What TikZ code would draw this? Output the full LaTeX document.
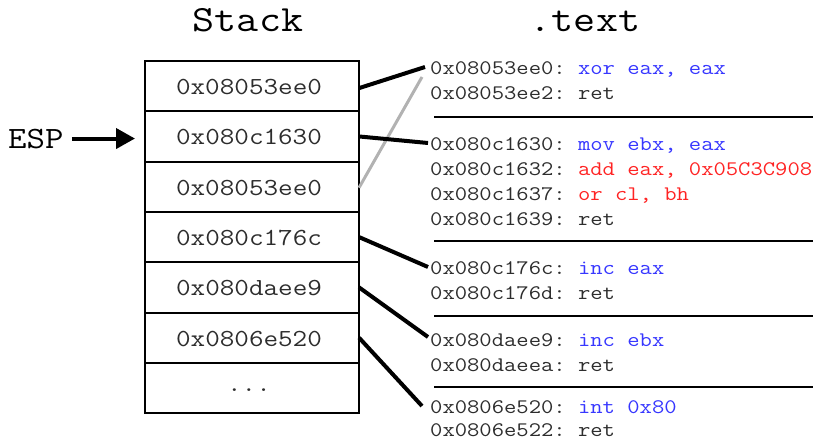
\documentclass[tikz,border=0pt]{standalone}
\usepackage{fontspec}
\setmonofont{Latin Modern Mono}[FakeStretch=1.156]
\usetikzlibrary{arrows.meta,calc}

\definecolor{ink}{RGB}{45,45,45}
\definecolor{opblue}{RGB}{55,55,255}
\definecolor{opred}{RGB}{255,35,35}
\definecolor{dead}{RGB}{178,178,178}

\tikzset{
  row/.style={draw=black, line width=2pt, minimum width=214pt, minimum height=50.3pt,
              inner sep=0pt, outer sep=0pt},
  rowtxt/.style={font=\ttfamily\fontsize{24.5}{26}\selectfont, text=ink, inner sep=0pt},
  title/.style={font=\ttfamily\fontsize{37}{40}\selectfont, text=black, anchor=base, inner sep=0pt},
  code/.style={font=\ttfamily\fontsize{20.7}{22}\selectfont, text=ink, anchor=west,
               inner sep=0pt, text height=12.6pt, text depth=0pt},
  link/.style={line width=4pt, black},
  deadlink/.style={line width=3pt, dead},
  rule/.style={line width=2pt, black},
}
\newcommand{\opb}[1]{\textcolor{opblue}{#1}}
\newcommand{\opr}[1]{\textcolor{opred}{#1}}

\begin{document}
\begin{tikzpicture}[x=1pt, y=-1pt]
\useasboundingbox (0,0) rectangle (823,439);

% headings
\node[title] (hstack) at (248,31) {Stack};
\node[title] (htext) at (585,31) {.text};

% stack cells
\foreach \i/\v in {1/0x08053ee0, 2/0x080c1630, 3/0x08053ee0, 4/0x080c176c,
                   5/0x080daee9, 6/0x0806e520} {
  \node[row] (r\i) at (252, {61+50.3*(\i-0.5)}) {};
  \node[rowtxt] (t\i) at ([xshift=-3pt, yshift=-1pt]r\i.center) {\v};
}
\node[row] (r7) at (252, {61+50.3*6.5}) {};
\node[rowtxt] (t7) at ([xshift=-3pt, yshift=-2pt]r7.center) {...};

% stack pointer
\node[font=\ttfamily\fontsize{31}{34}\selectfont, anchor=base west, inner sep=0pt] (esp) at (8,148) {ESP};
\draw[line width=4pt, -{Triangle[length=19pt, width=20pt]}]
  ([xshift=8pt]esp.east) -- ([xshift=-10pt]esp.east -| r2.west);

% gadgets in .text
\node[code] (c1)  at (430,68)  {0x08053ee0: \opb{xor eax, eax}};
\node[code] (c2)  at (430,93)  {0x08053ee2: ret};
\node[code] (c3)  at (430,144) {0x080c1630: \opb{mov ebx, eax}};
\node[code] (c4)  at (430,169) {0x080c1632: \opr{add eax, 0x05C3C908}};
\node[code] (c5)  at (430,194) {0x080c1637: \opr{or cl, bh}};
\node[code] (c6)  at (430,219) {0x080c1639: ret};
\node[code] (c7)  at (430,268) {0x080c176c: \opb{inc eax}};
\node[code] (c8)  at (430,293) {0x080c176d: ret};
\node[code] (c9)  at (430,340) {0x080daee9: \opb{inc ebx}};
\node[code] (c10) at (430,365) {0x080daeea: ret};
\node[code] (c11) at (430,407) {0x0806e520: \opb{int 0x80}};
\node[code] (c12) at (430,430) {0x0806e522: ret};

% separators between gadgets
\foreach \y in {117,241,316,387} \draw[rule] (434,\y) -- (813,\y);

% return addresses pointing at gadgets
\draw[deadlink] ([yshift=-1pt]r3.east) -- ([xshift=-8pt, yshift=-9pt]c1.west);
\draw[link] ([yshift=-2pt]r1.east) -- ([xshift=-5pt, yshift=1pt]c1.west);
\draw[link] (r2.east) -- ([xshift=-2pt, yshift=1pt]c3.west);
\draw[link] (r4.east) -- ([xshift=-2pt, yshift=1pt]c7.west);
\draw[link] (r5.east) -- ([xshift=-2pt, yshift=3pt]c9.west);
\draw[link] (r6.east) -- ([xshift=-8pt, yshift=1pt]c11.west);
\end{tikzpicture}
\end{document}
